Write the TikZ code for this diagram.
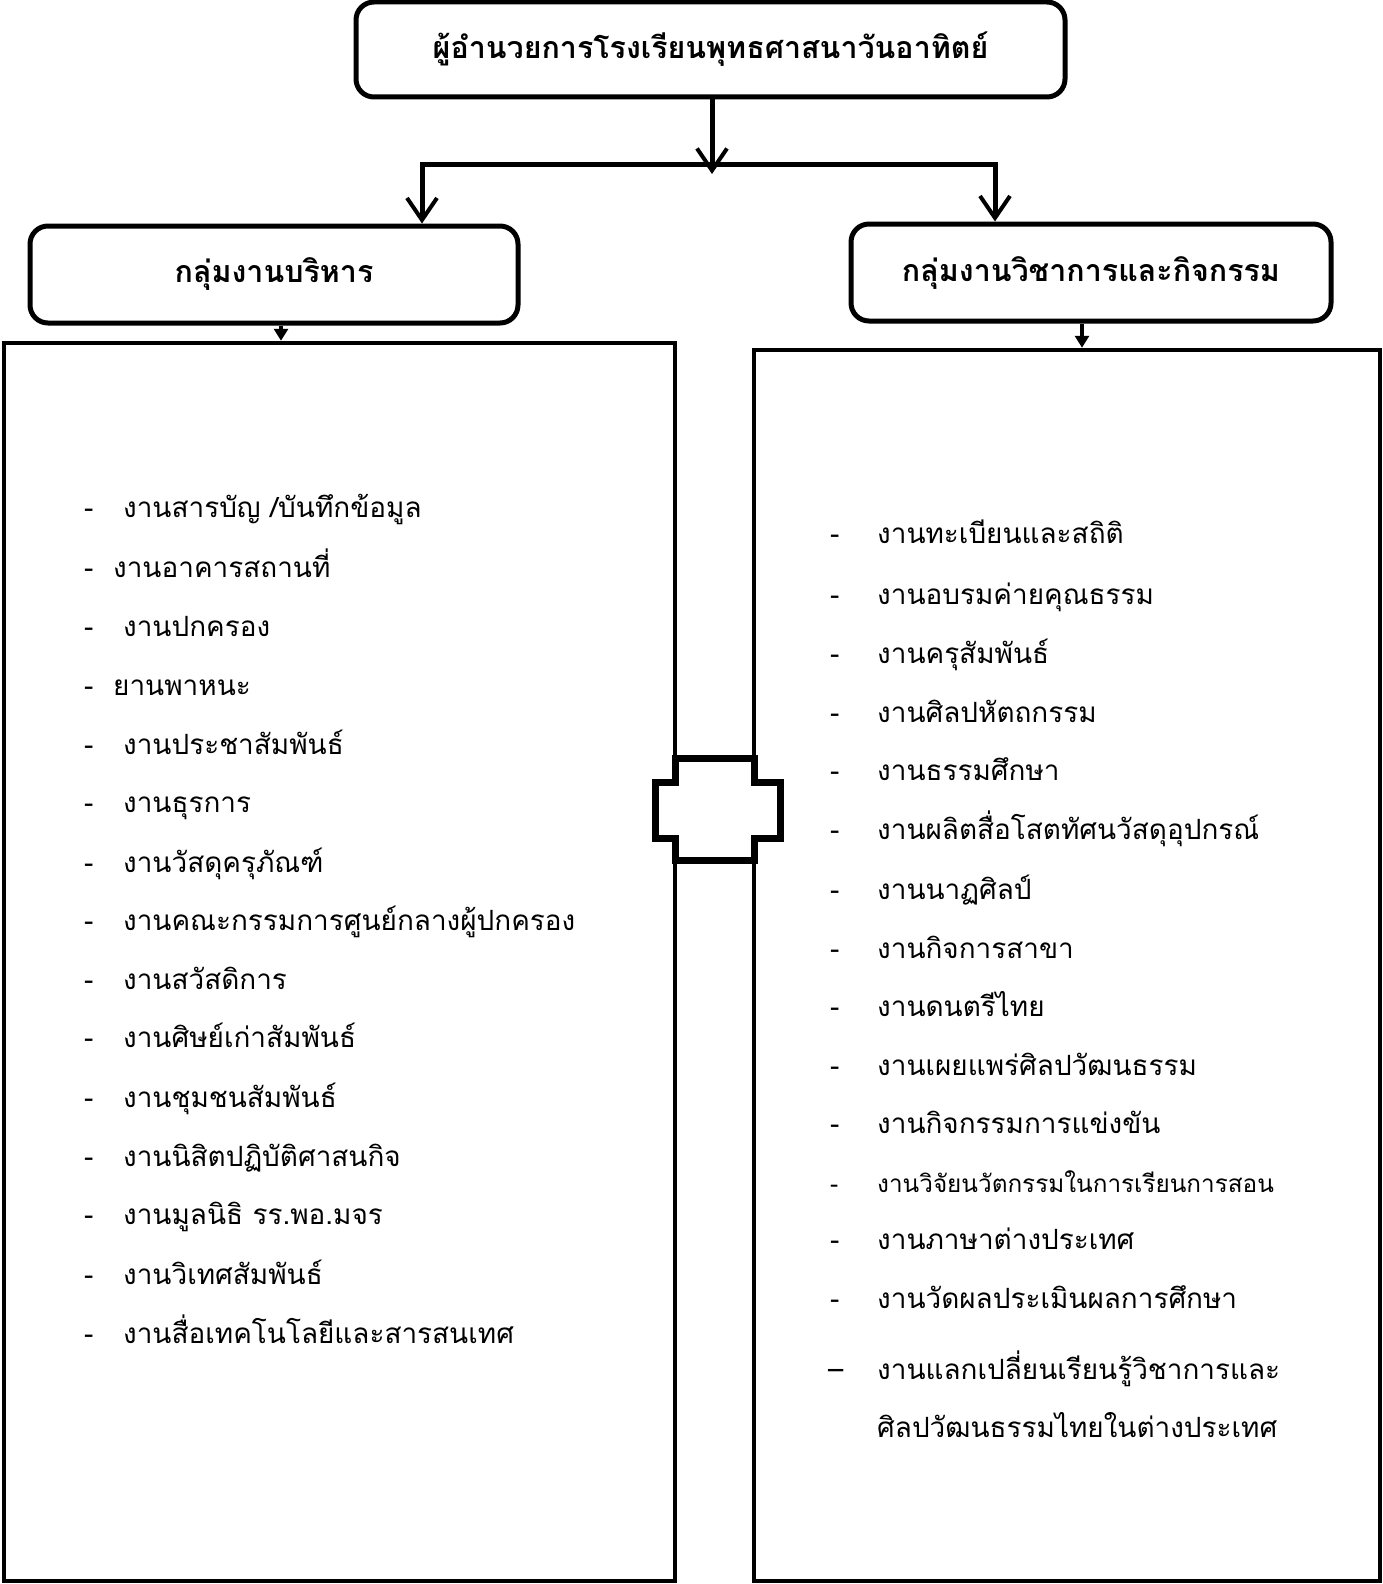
\documentclass[tikz,border=0pt]{standalone}
\usepackage{fontspec}
\newfontfamily\thai[Script=Thai]{Loma}
\usetikzlibrary{arrows.meta}
\tikzset{
  hbox/.style={draw, line width=5pt, rounded corners=18pt, inner sep=0pt},
  bigrect/.style={draw, line width=4.5pt},
  conn/.style={line width=5pt},
  barb/.style={conn, -{Straight Barb[length=22pt,width=30pt,line width=4pt]}},
  tri/.style={line width=4pt, -{Triangle[length=12pt,width=14pt]}},
  item/.style={anchor=base west, inner sep=0pt, font=\thai\fontsize{27.9}{28}\selectfont},
  smallitem/.style={item, font=\thai\fontsize{24.3}{25}\selectfont},
  ttl/.style={font=\thai\bfseries\fontsize{30.4}{31}\selectfont},
}
\begin{document}
\begin{tikzpicture}[x=1pt,y=-1pt]
\useasboundingbox[fill=white] (0,0) rectangle (1383,1584);
% header boxes
\node[hbox, minimum width=709pt, minimum height=95pt] (top) at (710.5,49.5) {};
\node[ttl] (toptxt) at (top.center) {ผู้อำนวยการโรงเรียนพุทธศาสนาวันอาทิตย์};
\node[hbox, minimum width=488pt, minimum height=97pt] (lbox) at (274,274.5) {};
\node[ttl] (ltxt) at (lbox.center) {กลุ่มงานบริหาร};
\node[hbox, minimum width=480pt, minimum height=97pt] (rbox) at (1091,272.5) {};
\node[ttl] (rtxt) at (rbox.center) {กลุ่มงานวิชาการและกิจกรรม};
% big rectangles
\node[bigrect, minimum width=671pt, minimum height=1238pt, inner sep=0pt] (lrect) at (339.5,962) {};
\node[bigrect, minimum width=626pt, minimum height=1231pt, inner sep=0pt] (rrect) at (1067,965.5) {};
% connectors
\coordinate (j) at (712,174);
\coordinate (hl) at (422,164);
\coordinate (hr) at (995,164);
\draw[barb] (top.south -| j) -- (j);
\draw[conn, line cap=rect] (hl) -- (hr);
\draw[barb] (hl) -- (hl |- lbox.north);
\draw[barb] (hr) -- (hr |- rbox.north);
\coordinate (la) at (281,0);
\coordinate (ra) at (1082,0);
\draw[tri] (la |- lbox.south) -- (la |- lrect.north);
\draw[tri] (ra |- rbox.south) -- (ra |- rrect.north);
% cross
\draw[line width=7pt, fill=white, line join=miter]
  (675,758) -- (754,758) -- (754,782) -- (780,782) -- (780,838) -- (754,838)
  -- (754,860) -- (675,860) -- (675,838) -- (655,838) -- (655,782) -- (675,782) -- cycle;
% left list
\foreach \y/\xx/\t [count=\i] in {
  517/123/{งานสารบัญ /บันทึกข้อมูล},
  577/113/{งานอาคารสถานที่},
  636/123/{งานปกครอง},
  695/113/{ยานพาหนะ},
  754/123/{งานประชาสัมพันธ์},
  812/123/{งานธุรการ},
  872/123/{งานวัสดุครุภัณฑ์},
  930/123/{งานคณะกรรมการศูนย์กลางผู้ปกครอง},
  989/123/{งานสวัสดิการ},
  1047/123/{งานศิษย์เก่าสัมพันธ์},
  1107/123/{งานชุมชนสัมพันธ์},
  1166/123/{งานนิสิตปฏิบัติศาสนกิจ},
  1224/123/{งานมูลนิธิ รร.พอ.มจร},
  1284/123/{งานวิเทศสัมพันธ์},
  1343/123/{งานสื่อเทคโนโลยีและสารสนเทศ}} {
  \node[item] (ld\i) at (84,\y) {-};
  \node[item] (l\i) at (\xx,\y) {\t};
}
% right list
\node[item] (rd1) at (830,543) {-};  \node[item] (r1) at (877,543) {งานทะเบียนและสถิติ};
\node[item] (rd2) at (830,604) {-};  \node[item] (r2) at (877,604) {งานอบรมค่ายคุณธรรม};
\node[item] (rd3) at (830,663) {-};  \node[item] (r3) at (877,663) {งานครุสัมพันธ์};
\node[item] (rd4) at (830,722) {-};  \node[item] (r4) at (877,722) {งานศิลปหัตถกรรม};
\node[item] (rd5) at (830,780) {-};  \node[item] (r5) at (877,780) {งานธรรมศึกษา};
\node[item] (rd6) at (830,839) {-};  \node[item] (r6) at (877,839) {งานผลิตสื่อโสตทัศนวัสดุอุปกรณ์};
\node[item] (rd7) at (830,899) {-};  \node[item] (r7) at (877,899) {งานนาฏศิลป์};
\node[item] (rd8) at (830,958) {-};  \node[item] (r8) at (877,958) {งานกิจการสาขา};
\node[item] (rd9) at (830,1016) {-}; \node[item] (r9) at (877,1016) {งานดนตรีไทย};
\node[item] (rd10) at (830,1075) {-}; \node[item] (r10) at (877,1075) {งานเผยแพร่ศิลปวัฒนธรรม};
\node[item] (rd11) at (830,1133) {-}; \node[item] (r11) at (877,1133) {งานกิจกรรมการแข่งขัน};
\node[smallitem] (rd12) at (830,1192) {-};
\node[smallitem] (r12) at (877,1192) {งานวิจัยนวัตกรรมในการเรียนการสอน};
\node[item] (rd13) at (830,1249) {-}; \node[item] (r13) at (877,1249) {งานภาษาต่างประเทศ};
\node[item] (rd14) at (830,1308) {-}; \node[item] (r14) at (877,1308) {งานวัดผลประเมินผลการศึกษา};
\node[item] (rd15) at (828,1379) {–}; \node[item] (r15) at (877,1379) {งานแลกเปลี่ยนเรียนรู้วิชาการและ};
\node[item] (r16) at (877,1437) {ศิลปวัฒนธรรมไทยในต่างประเทศ};
\end{tikzpicture}
\end{document}
